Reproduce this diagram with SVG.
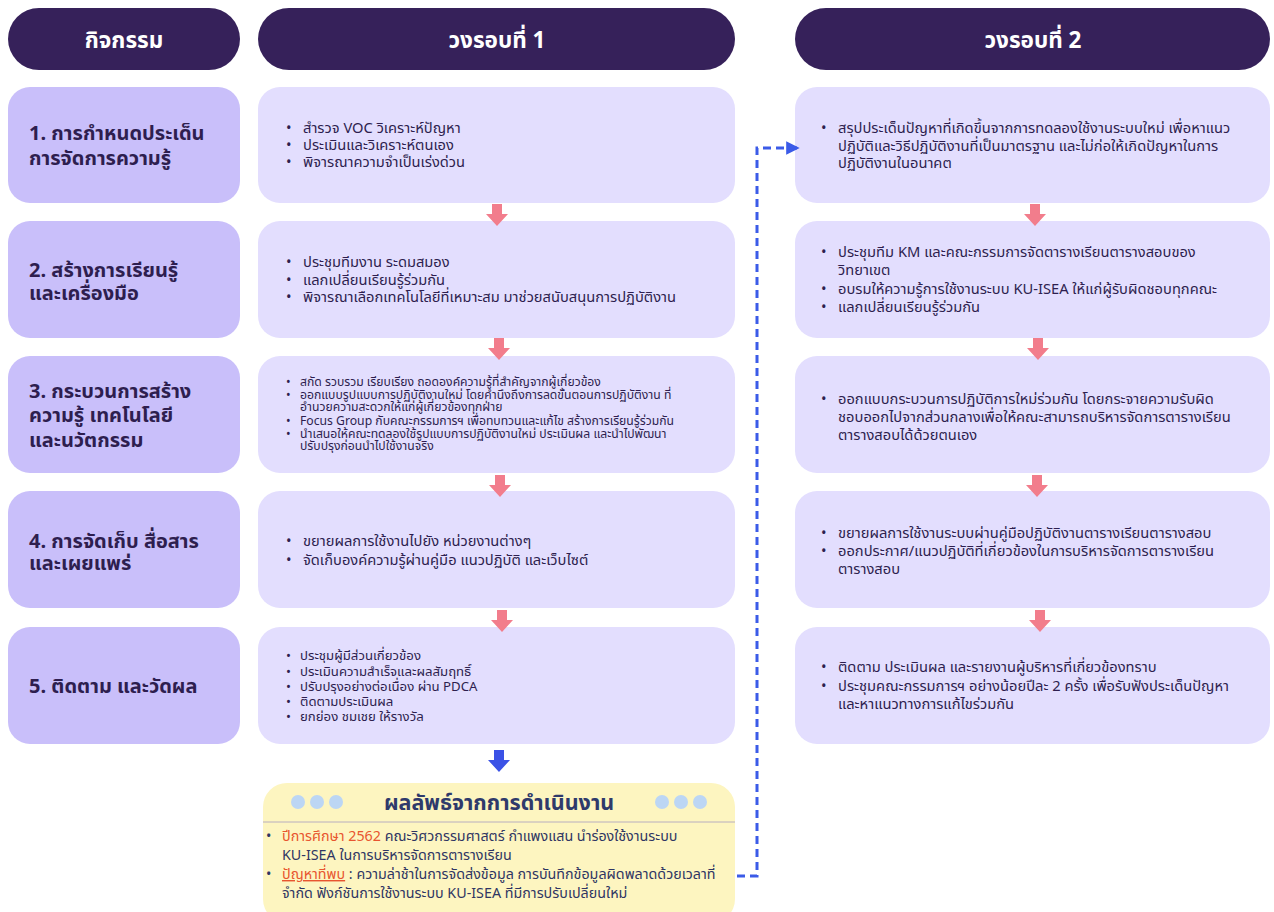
<svg xmlns="http://www.w3.org/2000/svg" width="1274" height="912" viewBox="0 0 1274 912">
<style>
text{font-family:"Noto Sans Thai","Noto Sans","DejaVu Sans",sans-serif}
.hdr{fill:#36215a}
.ht{fill:#ffffff;font-size:22.5px;font-weight:bold;text-anchor:middle}
.lb{fill:#c9bffa}
.mb{fill:#e3defe}
.lt{fill:#2e1e4f;font-size:20px;font-weight:bold}
.bt{fill:#2e1e4f;font-size:14.7px}
.bs{fill:#2e1e4f;font-size:12.2px}
.bm{fill:#2e1e4f;font-size:13.2px}
.pa{fill:#f27d8c}
.rt{fill:#2f3563;font-size:14.3px}
.red{fill:#e8552f}
.dot{fill:#bcd6f4}
</style>
<defs>
<marker id="ah" viewBox="0 0 10 10" refX="8" refY="5" markerWidth="4.5" markerHeight="4.5" orient="auto"><path d="M0,0L10,5L0,10z" fill="#3b5be8"/></marker>
<path id="pd" d="M-5,0h10v10h6l-11,12l-11,-12h6z"/>
</defs>

<g id="header-activity"><rect class="hdr" x="8" y="8" width="232" height="62" rx="31"/><text class="ht" x="124" y="48">กิจกรรม</text></g>
<g id="header-round1"><rect class="hdr" x="258" y="8" width="477" height="62" rx="31"/><text class="ht" x="497" y="48">วงรอบที่ 1</text></g>
<g id="header-round2"><rect class="hdr" x="795" y="8" width="475" height="62" rx="31"/><text class="ht" x="1033" y="48">วงรอบที่ 2</text></g>

<g id="act1"><rect class="lb" x="8" y="87" width="232" height="116" rx="22"/><text class="lt" x="29" y="140">1. การกำหนดประเด็น</text><text class="lt" x="29" y="165">การจัดการความรู้</text></g>
<g id="act2"><rect class="lb" x="8" y="221" width="232" height="117" rx="22"/><text class="lt" x="29" y="277">2. สร้างการเรียนรู้</text><text class="lt" x="29" y="300">และเครื่องมือ</text></g>
<g id="act3"><rect class="lb" x="8" y="356" width="232" height="117" rx="22"/><text class="lt" x="29" y="398">3. กระบวนการสร้าง</text><text class="lt" x="29" y="422">ความรู้ เทคโนโลยี</text><text class="lt" x="29" y="447">และนวัตกรรม</text></g>
<g id="act4"><rect class="lb" x="8" y="491" width="232" height="117" rx="22"/><text class="lt" x="29" y="548">4. การจัดเก็บ สื่อสาร</text><text class="lt" x="29" y="570">และเผยแพร่</text></g>
<g id="act5"><rect class="lb" x="8" y="627" width="232" height="117" rx="22"/><text class="lt" x="29" y="693">5. ติดตาม และวัดผล</text></g>

<g id="r1-1"><rect class="mb" x="258" y="87" width="477" height="116" rx="22"/>
<text class="bt"><tspan x="286" y="133">•</tspan><tspan x="303" y="133">สำรวจ VOC วิเคราะห์ปัญหา</tspan><tspan x="286" y="150">•</tspan><tspan x="303" y="150">ประเมินและวิเคราะห์ตนเอง</tspan><tspan x="286" y="167">•</tspan><tspan x="303" y="167">พิจารณาความจำเป็นเร่งด่วน</tspan></text></g>
<g id="r1-2"><rect class="mb" x="258" y="221" width="477" height="117" rx="22"/>
<text class="bt"><tspan x="286" y="267">•</tspan><tspan x="303" y="267">ประชุมทีมงาน ระดมสมอง</tspan><tspan x="286" y="285">•</tspan><tspan x="303" y="285">แลกเปลี่ยนเรียนรู้ร่วมกัน</tspan><tspan x="286" y="302">•</tspan><tspan x="303" y="302">พิจารณาเลือกเทคโนโลยีที่เหมาะสม มาช่วยสนับสนุนการปฏิบัติงาน</tspan></text></g>
<g id="r1-3"><rect class="mb" x="258" y="356" width="477" height="117" rx="22"/>
<text class="bs"><tspan x="286" y="386">•</tspan><tspan x="300" y="386">สกัด รวบรวม เรียบเรียง ถอดองค์ความรู้ที่สำคัญจากผู้เกี่ยวข้อง</tspan><tspan x="286" y="399">•</tspan><tspan x="300" y="399">ออกแบบรูปแบบการปฏิบัติงานใหม่ โดยคำนึงถึงการลดขั้นตอนการปฏิบัติงาน ที่</tspan><tspan x="300" y="411">อำนวยความสะดวกให้แก่ผู้เกี่ยวข้องทุกฝ่าย</tspan><tspan x="286" y="425">•</tspan><tspan x="300" y="425">Focus Group กับคณะกรรมการฯ เพื่อทบทวนและแก้ไข สร้างการเรียนรู้ร่วมกัน</tspan><tspan x="286" y="438">•</tspan><tspan x="300" y="438">นำเสนอให้คณะทดลองใช้รูปแบบการปฏิบัติงานใหม่ ประเมินผล และนำไปพัฒนา</tspan><tspan x="300" y="450">ปรับปรุงก่อนนำไปใช้งานจริง</tspan></text></g>
<g id="r1-4"><rect class="mb" x="258" y="491" width="477" height="117" rx="22"/>
<text class="bt"><tspan x="286" y="546">•</tspan><tspan x="303" y="546">ขยายผลการใช้งานไปยัง หน่วยงานต่างๆ</tspan><tspan x="286" y="565">•</tspan><tspan x="303" y="565">จัดเก็บองค์ความรู้ผ่านคู่มือ แนวปฏิบัติ และเว็บไซต์</tspan></text></g>
<g id="r1-5"><rect class="mb" x="258" y="627" width="477" height="117" rx="22"/>
<text class="bm"><tspan x="286" y="660">•</tspan><tspan x="300" y="660">ประชุมผู้มีส่วนเกี่ยวข้อง</tspan><tspan x="286" y="676">•</tspan><tspan x="300" y="676">ประเมินความสำเร็จและผลสัมฤทธิ์</tspan><tspan x="286" y="691">•</tspan><tspan x="300" y="691">ปรับปรุงอย่างต่อเนื่อง ผ่าน PDCA</tspan><tspan x="286" y="706">•</tspan><tspan x="300" y="706">ติดตามประเมินผล</tspan><tspan x="286" y="721">•</tspan><tspan x="300" y="721">ยกย่อง ชมเชย ให้รางวัล</tspan></text></g>

<g id="r2-1"><rect class="mb" x="795" y="87" width="475" height="116" rx="22"/>
<text class="bt"><tspan x="821" y="133">•</tspan><tspan x="838" y="133">สรุปประเด็นปัญหาที่เกิดขึ้นจากการทดลองใช้งานระบบใหม่ เพื่อหาแนว</tspan><tspan x="838" y="151">ปฏิบัติและวิธีปฏิบัติงานที่เป็นมาตรฐาน และไม่ก่อให้เกิดปัญหาในการ</tspan><tspan x="838" y="168">ปฏิบัติงานในอนาคต</tspan></text></g>
<g id="r2-2"><rect class="mb" x="795" y="221" width="475" height="117" rx="22"/>
<text class="bt"><tspan x="821" y="257">•</tspan><tspan x="838" y="257">ประชุมทีม KM และคณะกรรมการจัดตารางเรียนตารางสอบของ</tspan><tspan x="838" y="275">วิทยาเขต</tspan><tspan x="821" y="294">•</tspan><tspan x="838" y="294">อบรมให้ความรู้การใช้งานระบบ KU-ISEA ให้แก่ผู้รับผิดชอบทุกคณะ</tspan><tspan x="821" y="312">•</tspan><tspan x="838" y="312">แลกเปลี่ยนเรียนรู้ร่วมกัน</tspan></text></g>
<g id="r2-3"><rect class="mb" x="795" y="356" width="475" height="117" rx="22"/>
<text class="bt"><tspan x="821" y="404">•</tspan><tspan x="838" y="404">ออกแบบกระบวนการปฏิบัติการใหม่ร่วมกัน โดยกระจายความรับผิด</tspan><tspan x="838" y="422">ชอบออกไปจากส่วนกลางเพื่อให้คณะสามารถบริหารจัดการตารางเรียน</tspan><tspan x="838" y="440">ตารางสอบได้ด้วยตนเอง</tspan></text></g>
<g id="r2-4"><rect class="mb" x="795" y="491" width="475" height="117" rx="22"/>
<text class="bt"><tspan x="821" y="538">•</tspan><tspan x="838" y="538">ขยายผลการใช้งานระบบผ่านคู่มือปฏิบัติงานตารางเรียนตารางสอบ</tspan><tspan x="821" y="556">•</tspan><tspan x="838" y="556">ออกประกาศ/แนวปฏิบัติที่เกี่ยวข้องในการบริหารจัดการตารางเรียน</tspan><tspan x="838" y="574">ตารางสอบ</tspan></text></g>
<g id="r2-5"><rect class="mb" x="795" y="627" width="475" height="117" rx="22"/>
<text class="bt"><tspan x="821" y="672">•</tspan><tspan x="838" y="672">ติดตาม ประเมินผล และรายงานผู้บริหารที่เกี่ยวข้องทราบ</tspan><tspan x="821" y="691">•</tspan><tspan x="838" y="691">ประชุมคณะกรรมการฯ อย่างน้อยปีละ 2 ครั้ง เพื่อรับฟังประเด็นปัญหา</tspan><tspan x="838" y="709">และหาแนวทางการแก้ไขร่วมกัน</tspan></text></g>

<g id="result"><rect x="263" y="783" width="472" height="140" rx="24" fill="#fdf5c0"/>
<line x1="263" y1="822" x2="735" y2="822" stroke="#b8aebf" stroke-width="1"/>
<circle class="dot" cx="298" cy="802" r="7"/><circle class="dot" cx="317" cy="802" r="7"/><circle class="dot" cx="336" cy="802" r="7"/>
<circle class="dot" cx="662" cy="802" r="7"/><circle class="dot" cx="681" cy="802" r="7"/><circle class="dot" cx="700" cy="802" r="7"/>
<text x="499" y="810" text-anchor="middle" font-size="21.5" font-weight="bold" fill="#2f3a6b">ผลลัพธ์จากการดำเนินงาน</text>
<text class="rt"><tspan x="266" y="841">•</tspan><tspan x="282" y="841" class="red">ปีการศึกษา 2562</tspan><tspan> คณะวิศวกรรมศาสตร์ กำแพงแสน นำร่องใช้งานระบบ</tspan><tspan x="282" y="860">KU-ISEA ในการบริหารจัดการตารางเรียน</tspan><tspan x="266" y="879">•</tspan><tspan x="282" y="879" class="red" text-decoration="underline">ปัญหาที่พบ</tspan><tspan> : ความล่าช้าในการจัดส่งข้อมูล การบันทึกข้อมูลผิดพลาดด้วยเวลาที่</tspan><tspan x="282" y="898">จำกัด ฟังก์ชันการใช้งานระบบ KU-ISEA ที่มีการปรับเปลี่ยนใหม่</tspan></text></g>

<g id="connectors">
<use href="#pd" class="pa" x="497" y="204"/>
<use href="#pd" class="pa" x="499" y="338"/>
<use href="#pd" class="pa" x="500" y="475"/>
<use href="#pd" class="pa" x="502" y="610"/>
<use href="#pd" class="pa" x="1035" y="204"/>
<use href="#pd" class="pa" x="1038" y="338"/>
<use href="#pd" class="pa" x="1037" y="475"/>
<use href="#pd" class="pa" x="1040" y="610"/>
<use href="#pd" fill="#3b52e6" x="499" y="750"/>
<path d="M737,876H757V148H797" fill="none" stroke="#3b5be8" stroke-width="3" stroke-dasharray="8,5" marker-end="url(#ah)"/>
</g>
</svg>
